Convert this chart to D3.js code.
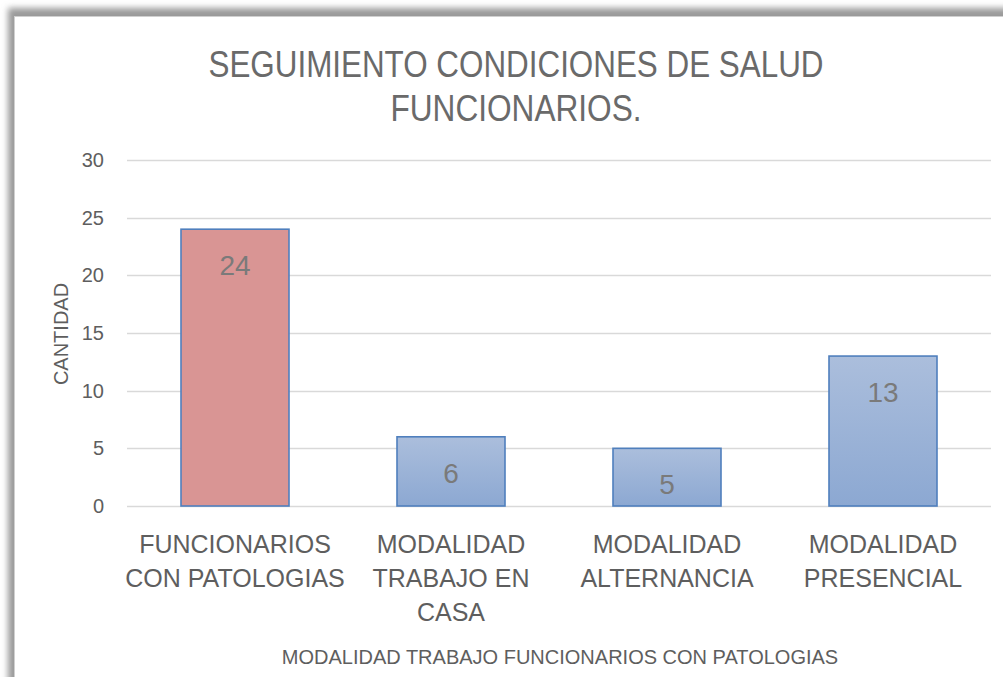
<!DOCTYPE html>
<html>
<head>
<meta charset="utf-8">
<script src="https://cdn.jsdelivr.net/npm/d3@7"></script>
<style>
  html, body { margin: 0; padding: 0; background: #ffffff; }
  svg { display: block; }
</style>
</head>
<body>
<svg id="chart" width="1003" height="677"></svg>
<script>
// Chart data
const titleLines = ["SEGUIMIENTO CONDICIONES DE SALUD", "FUNCIONARIOS."];
const categories = [
  ["FUNCIONARIOS", "CON PATOLOGIAS"],
  ["MODALIDAD", "TRABAJO EN", "CASA"],
  ["MODALIDAD", "ALTERNANCIA"],
  ["MODALIDAD", "PRESENCIAL"]
];
const values = [24, 6, 5, 13];
const yTicks = [0, 5, 10, 15, 20, 25, 30];
const yTitle = "CANTIDAD";
const xTitle = "MODALIDAD TRABAJO FUNCIONARIOS CON PATOLOGIAS";

const FONT = "'Liberation Sans', Arial, sans-serif";
const svg = d3.select("#chart");
const W = 1003, H = 677;

// Frame with soft shadow along top and left edges
const defs = svg.append("defs");
const blur = defs.append("filter").attr("id", "shadow")
  .attr("x", "-5%").attr("y", "-5%").attr("width", "110%").attr("height", "110%");
blur.append("feGaussianBlur").attr("stdDeviation", 3);

svg.append("rect").attr("x", 8).attr("y", 8).attr("width", W).attr("height", H)
  .attr("fill", "#9a9a9a").attr("filter", "url(#shadow)");
svg.append("rect").attr("x", 14.5).attr("y", 16.5).attr("width", W).attr("height", H)
  .attr("fill", "#ffffff").attr("stroke", "#d0d0d0").attr("stroke-width", 1);

// Blue bar gradient
const grad = defs.append("linearGradient").attr("id", "blueFill")
  .attr("x1", 0).attr("y1", 0).attr("x2", 0).attr("y2", 1);
grad.append("stop").attr("offset", "0%").attr("stop-color", "#abbedc");
grad.append("stop").attr("offset", "100%").attr("stop-color", "#8ca8d2");

// Scales
const x = d3.scaleBand().domain(d3.range(categories.length)).range([127, 991]).paddingInner(0.5).paddingOuter(0.25);
const y = d3.scaleLinear().domain([0, 30]).range([506, 160]);

// Title, condensed to a light narrow look
const titleWidths = [615, 251];
svg.append("g").selectAll("text").data(titleLines).join("text")
  .attr("x", 516).attr("y", (d, i) => 77 + i * 44)
  .attr("text-anchor", "middle")
  .attr("font-family", FONT).attr("font-size", 36)
  .attr("textLength", (d, i) => titleWidths[i])
  .attr("lengthAdjust", "spacingAndGlyphs")
  .attr("fill", "#6a6a6a")
  .text(d => d);

// Gridlines
svg.append("g").selectAll("line").data(yTicks).join("line")
  .attr("x1", 127).attr("x2", 991)
  .attr("y1", d => Math.round(y(d)) + 0.5).attr("y2", d => Math.round(y(d)) + 0.5)
  .attr("stroke", "#d9d9d9").attr("stroke-width", 1.3);

// Y axis tick labels
const yAxis = d3.axisLeft(y).tickValues(yTicks).tickSize(0).tickPadding(0);
const yg = svg.append("g").attr("transform", "translate(104,0)").call(yAxis);
yg.select(".domain").remove();
yg.selectAll("text").attr("font-family", FONT).attr("font-size", 20).attr("fill", "#5e5e5e");

// Bars
svg.append("g").selectAll("rect").data(values).join("rect")
  .attr("x", (d, i) => x(i))
  .attr("y", d => y(d))
  .attr("width", x.bandwidth())
  .attr("height", d => y(0) - y(d))
  .attr("fill", (d, i) => i === 0 ? "#d99594" : "url(#blueFill)")
  .attr("stroke", "#4f7fbd").attr("stroke-width", 1.6);

// Value labels inside bar tops
svg.append("g").selectAll("text").data(values).join("text")
  .attr("x", (d, i) => x(i) + x.bandwidth() / 2)
  .attr("y", d => y(d) + 46)
  .attr("text-anchor", "middle")
  .attr("font-family", FONT).attr("font-size", 28)
  .attr("fill", "#7a7a7a")
  .text(d => d);

// Category labels
const cat = svg.append("g").selectAll("g").data(categories).join("g")
  .attr("transform", (d, i) => `translate(${x(i) + x.bandwidth() / 2},0)`);
cat.selectAll("text").data(d => d).join("text")
  .attr("x", 0).attr("y", (d, i) => 553 + i * 34)
  .attr("text-anchor", "middle")
  .attr("font-family", FONT).attr("font-size", 25)
  .attr("fill", "#5e5e5e")
  .text(d => d);

// Axis titles
svg.append("text")
  .attr("transform", "translate(68,334) rotate(-90)")
  .attr("text-anchor", "middle")
  .attr("font-family", FONT).attr("font-size", 20)
  .attr("fill", "#5e5e5e")
  .text(yTitle);

svg.append("text")
  .attr("x", 560).attr("y", 664)
  .attr("text-anchor", "middle")
  .attr("font-family", FONT).attr("font-size", 20)
  .attr("fill", "#5e5e5e")
  .text(xTitle);
</script>
</body>
</html>
